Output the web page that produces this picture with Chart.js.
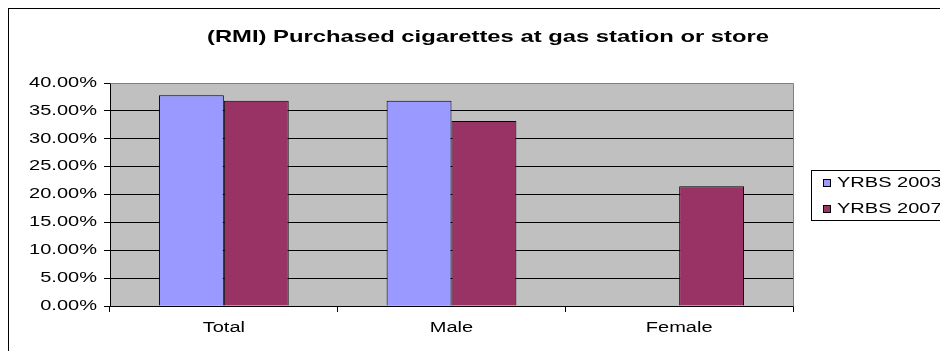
<!DOCTYPE html>
<html>
<head>
<meta charset="utf-8">
<script src="https://cdn.jsdelivr.net/npm/chart.js@4"></script>
<style>
  html, body { margin: 0; padding: 0; background: #fff; overflow: hidden; }
  #wrap { position: relative; width: 940px; height: 351px; overflow: hidden; }
  #chart { position: absolute; left: 0; top: 0; }
</style>
</head>
<body>
<div id="wrap"><canvas id="chart" width="976" height="351"></canvas></div>
<script>
// Purchase location survey results by group
const categories = ['Total', 'Male', 'Female'];
const seriesNames = ['YRBS 2003', 'YRBS 2007'];
const yrbs2003 = [37.8, 36.8, null];
const yrbs2007 = [36.8, 33.2, 21.5];
const yTicks = [0, 5, 10, 15, 20, 25, 30, 35, 40];

const FONT = 'Liberation Sans, Arial, sans-serif';
const titleText = '(RMI) Purchased cigarettes at gas station or store';

// Text on this chart is set wide: every fillText is stretched horizontally
// around its anchor point, so alignment (left/center/right) is preserved.
const canvas = document.getElementById('chart');
const ctx2d = canvas.getContext('2d');
let textStretch = 1.43;
const baseFillText = ctx2d.fillText.bind(ctx2d);
ctx2d.fillText = function (text, x, y, maxWidth) {
  this.save();
  this.translate(x, y);
  this.scale(textStretch, 1);
  baseFillText(text, 0, 0);
  this.restore();
};

// Grey plot background plus frame and the chart's outer border
const plotArea = {
  id: 'plotArea',
  beforeDraw(chart) {
    const { ctx, chartArea: a } = chart;
    ctx.save();
    ctx.fillStyle = '#c0c0c0';
    ctx.fillRect(a.left, a.top, a.right - a.left, a.bottom - a.top);
    ctx.strokeStyle = '#000';
    ctx.lineWidth = 1;
    ctx.strokeRect(8.5, 8.5, 1000, 400);
    ctx.restore();
  },
  afterDatasetsDraw(chart) {
    const { ctx, chartArea: a } = chart;
    ctx.save();
    ctx.strokeStyle = '#808080';
    ctx.lineWidth = 1;
    ctx.beginPath();
    ctx.moveTo(Math.round(a.left) + 0.5, Math.round(a.top) + 0.5);
    ctx.lineTo(Math.round(a.right) + 0.5, Math.round(a.top) + 0.5);
    ctx.lineTo(Math.round(a.right) + 0.5, Math.round(a.bottom) + 0.5);
    ctx.stroke();
    ctx.restore();
  }
};

// Title and boxed legend drawn on the canvas
const titleLegend = {
  id: 'titleLegend',
  afterDraw(chart) {
    const { ctx } = chart;
    ctx.save();
    ctx.fillStyle = '#000';
    ctx.font = 'bold 17px ' + FONT;
    ctx.textAlign = 'center';
    ctx.textBaseline = 'middle';
    textStretch = 1.4;
    ctx.fillText(titleText, 488, 37);
    textStretch = 1.43;

    const lx = 811, ly = 170, lw = 160, lh = 50;
    ctx.strokeStyle = '#000';
    ctx.lineWidth = 1;
    ctx.strokeRect(lx + 0.5, ly + 0.5, lw, lh);
    ctx.font = '14px ' + FONT;
    ctx.textAlign = 'left';
    chart.data.datasets.forEach((ds, i) => {
      const y = ly + 13 + i * 26;
      ctx.fillStyle = ds.backgroundColor;
      ctx.fillRect(lx + 12, y - 4, 8, 8);
      ctx.strokeStyle = '#000';
      ctx.strokeRect(lx + 12.5, y - 3.5, 7, 7);
      ctx.fillStyle = '#000';
      ctx.fillText(ds.label, lx + 26, y);
    });
    ctx.restore();
  }
};

new Chart(canvas, {
  type: 'bar',
  data: {
    labels: categories,
    datasets: [
      { label: seriesNames[0], data: yrbs2003, backgroundColor: '#9999ff', borderColor: '#000', borderWidth: 1 },
      { label: seriesNames[1], data: yrbs2007, backgroundColor: '#993366', borderColor: '#000', borderWidth: 1 }
    ]
  },
  options: {
    responsive: false,
    animation: false,
    devicePixelRatio: 1,
    layout: { padding: { left: 0, right: 183, top: 83, bottom: 0 } },
    datasets: { bar: { categoryPercentage: 0.57, barPercentage: 1.0 } },
    plugins: { legend: { display: false }, title: { display: false }, tooltip: { enabled: false } },
    scales: {
      x: {
        grid: { display: true, drawOnChartArea: false, drawTicks: true, tickLength: 6, color: '#000', offset: true },
        border: { display: true, color: '#000' },
        ticks: { color: '#000', font: { family: FONT, size: 14 }, padding: 8 },
        afterFit(scale) { scale.height = 45; }
      },
      y: {
        min: 0, max: 40,
        afterBuildTicks(scale) { scale.ticks = yTicks.map(v => ({ value: v })); },
        grid: { color: '#000', tickLength: 6, drawTicks: true },
        border: { display: true, color: '#000' },
        ticks: {
          color: '#000', font: { family: FONT, size: 14 }, padding: 7,
          callback: v => v.toFixed(2) + '%'
        },
        afterFit(scale) { scale.width = 110; }
      }
    }
  },
  plugins: [plotArea, titleLegend]
});
</script>
</body>
</html>
